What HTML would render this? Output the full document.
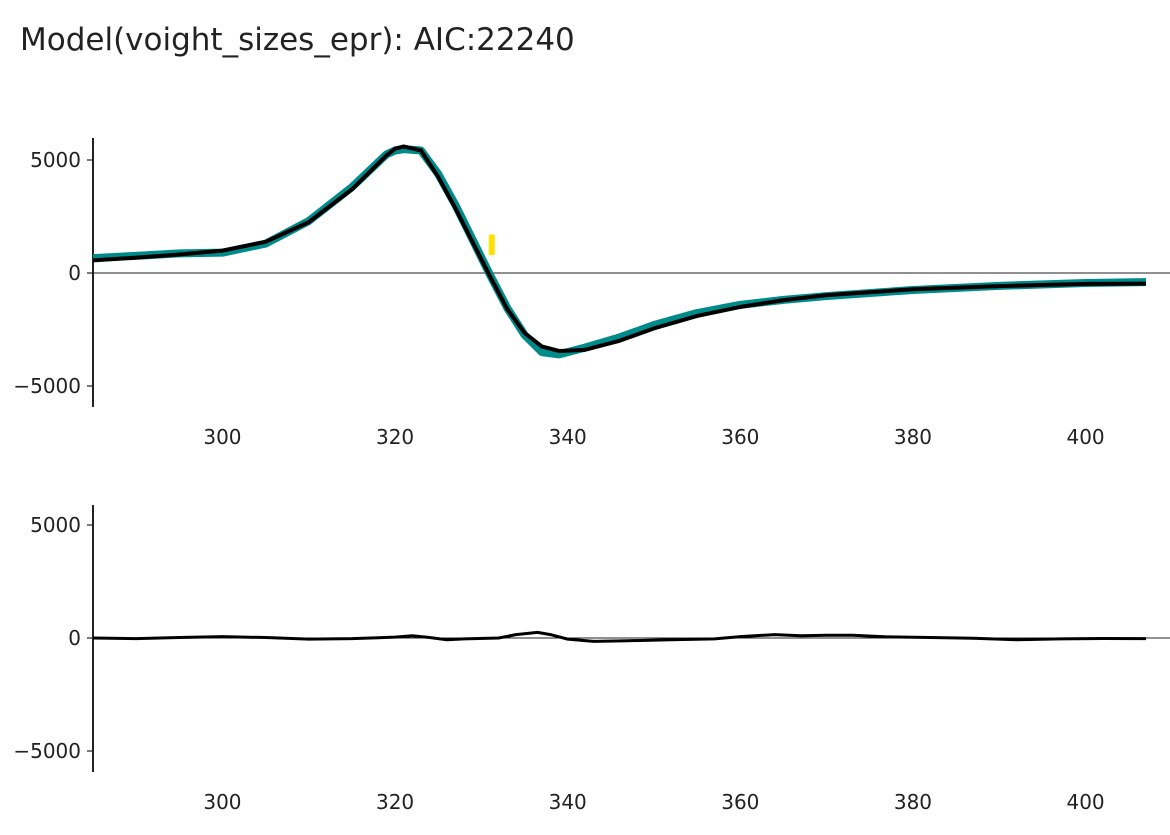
<!DOCTYPE html>
<html><head><meta charset="utf-8"><style>
body{margin:0;background:#fff;font-family:"DejaVu Sans","Liberation Sans",sans-serif}
</style></head><body>
<svg id="c" width="1170" height="831" xmlns="http://www.w3.org/2000/svg" style="font-family:'DejaVu Sans','Liberation Sans',sans-serif">
<text x="20" y="50" font-size="31" fill="#222">Model(voight_sizes_epr): AIC:22240</text>
<g id="topPanel"></g>
<g id="botPanel"></g>
</svg>
<script>
const xs=[285,290,295,300,305,310,315,319,320,321,323,325,327,329,331,333,335,337,339,342,346,350,355,360,365,370,380,390,400,407];
const dataY=[660,760,870,900,1300,2300,3800,5250,5420,5480,5420,4380,3000,1460,-90,-1550,-2740,-3500,-3600,-3300,-2850,-2300,-1770,-1410,-1190,-1020,-750,-570,-440,-400];
const fitY=[560,680,820,990,1380,2250,3700,5200,5500,5600,5420,4250,2850,1350,-150,-1600,-2650,-3250,-3450,-3400,-3000,-2450,-1900,-1500,-1200,-980,-720,-580,-480,-470];
const resX=[285,290,295,300,305,310,315,320,322,324,326,328,332,334,336.5,338,340,343,347,352,357,360,364,367,370,373,377,382,387,392,397,402,407];
const resY=[0,-30,20,60,20,-50,-30,40,100,20,-80,-40,0,150,250,150,-50,-150,-120,-80,-40,60,150,100,120,120,50,20,-10,-80,-40,-20,-30];
const yTicks=[5000,0,-5000];
const xTicks=[300,320,340,360,380,400];
const NS="http://www.w3.org/2000/svg";
const X0=93,X1=1146,D0=285,D1=407;
const sx=v=>X0+(v-D0)*(X1-X0)/(D1-D0);
function mk(t,a,p){const e=document.createElementNS(NS,t);for(const k in a)e.setAttribute(k,a[k]);p.appendChild(e);return e;}
function panel(g,zeroPx,axTop,axBot,labY){
  const sy=v=>zeroPx-v*0.0226;
  const ax=mk('line',{x1:X0,x2:X0,y1:axTop,y2:axBot,stroke:'#222','stroke-width':2},g);
  
  
  const z=mk('line',{x1:X0,x2:1170,y1:sy(0),y2:sy(0),stroke:'#222','stroke-width':1},g);
  
  
  yTicks.forEach(t=>{
    mk('line',{x1:X0-6,x2:X0,y1:sy(t),y2:sy(t),stroke:'#222','stroke-width':1.2},g);
    const l=mk('text',{x:X0-12,y:sy(t)+7,'font-size':20,'text-anchor':'end',fill:'#222'},g);
    l.textContent=t<0?'\u22125000':String(t);
    
    
  });
  xTicks.forEach(t=>{
    const l=mk('text',{x:sx(t),y:labY,'font-size':20,'text-anchor':'middle',fill:'#222'},g);
    l.textContent=t;
    
    
  });
  return sy;
}
const gTop=document.getElementById('topPanel'),gBot=document.getElementById('botPanel');
const sy1=panel(gTop,273,138,407,444);
const sy2=panel(gBot,638,505,772,809);
const pts=(X,Y,sy)=>X.map((x,i)=>sx(x)+','+sy(Y[i])).join(' ');
const d=mk('polyline',{points:pts(xs,dataY,sy1),fill:'none',stroke:'#008b8b','stroke-width':8,'stroke-linejoin':'round'},gTop);


const f=mk('polyline',{points:pts(xs,fitY,sy1),fill:'none',stroke:'#000','stroke-width':4,'stroke-linejoin':'round'},gTop);


const m=mk('rect',{x:sx(331.2)-3,y:sy1(1700),width:6,height:sy1(800)-sy1(1700),fill:'#ffe000'},gTop);


const r=mk('polyline',{points:pts(resX,resY,sy2),fill:'none',stroke:'#000','stroke-width':3,'stroke-linejoin':'round'},gBot);


</script>
</body></html>
